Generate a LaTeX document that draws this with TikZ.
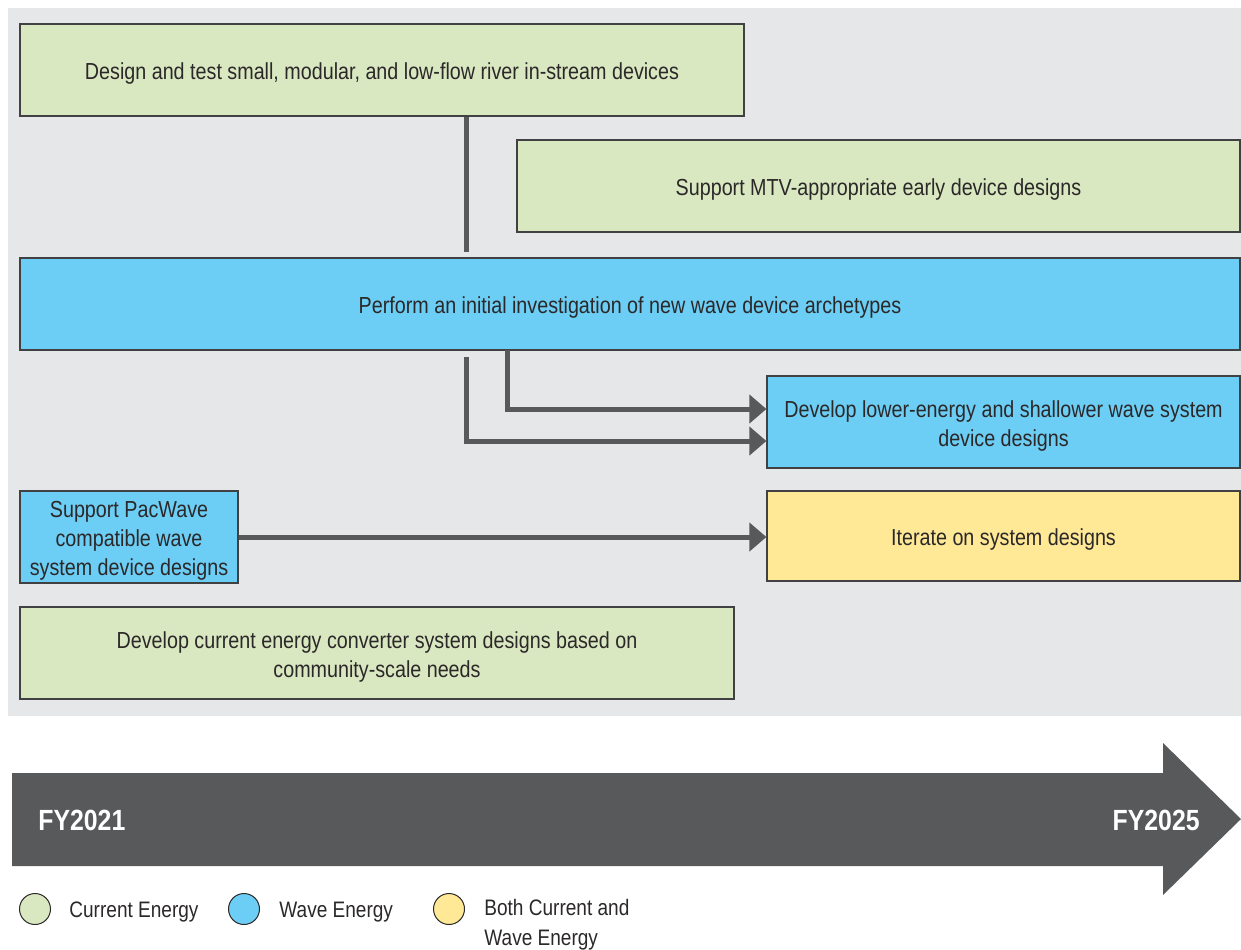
\documentclass[tikz,border=0pt]{standalone}
\usepackage{fontspec}
\setmainfont{Liberation Sans}[FakeStretch=0.85]
\usetikzlibrary{positioning,arrows.meta}

\definecolor{panelgray}{HTML}{E6E7E8}
\definecolor{linkgray}{HTML}{58595B}
\definecolor{boxline}{HTML}{414042}
\definecolor{inkgray}{HTML}{2B2829}
\definecolor{currentgreen}{HTML}{DAE8C1}
\definecolor{waveblue}{HTML}{6DCEF5}
\definecolor{bothyellow}{HTML}{FFE996}

\begin{document}
\begin{tikzpicture}[x=0.5pt,y=-0.5pt,
  textlift/.style={execute at begin node={\rule{0pt}{#1}}},
  box/.style={draw=boxline,line width=0.6pt,text=inkgray,align=center,minimum height=46pt,inner sep=2pt,
    font=\fontsize{11.6}{14.5}\selectfont,textlift=12.3pt},
  current/.style={box,fill=currentgreen},
  wave/.style={box,fill=waveblue},
  both/.style={box,fill=bothyellow},
  link/.style={draw=linkgray,line width=2.5pt},
  flow/.style={link,-{Triangle[length=8.5pt,width=14pt]}},
  key/.style={circle,draw=inkgray,line width=0.5pt,minimum size=15.5pt,inner sep=0pt},
  keytext/.style={anchor=west,align=left,text=inkgray,inner sep=0pt,font=\fontsize{11.2}{15}\selectfont},
  year/.style={text=white,inner sep=0pt,font=\bfseries\fontsize{14.6}{16}\selectfont}]
  \useasboundingbox (0,0) rectangle (1241,949);
  \fill[panelgray] (8,8) rectangle (1241,716);

  \node[current,minimum width=362pt] (design) at (382,70) {Design and test small, modular, and low-flow river in-stream devices};
  \node[current,minimum width=361.5pt] (mtv) at (878.5,186) {Support MTV-appropriate early device designs};
  \node[wave,minimum width=610pt] (perform) at (630,304) {Perform an initial investigation of new wave device archetypes};
  \node[wave,minimum width=236.5pt,textlift=26.8pt] (devlow) at (1003.5,422) {Develop lower-energy and shallower wave system\\device designs};
  \node[wave,minimum width=109pt,inner ysep=0pt,textlift=41.3pt] (pacwave) at (129,537) {Support PacWave\\compatible wave\\system device designs};
  \node[both,minimum width=236.5pt,minimum height=45pt] (iterate) at (1003.5,536) {Iterate on system designs};
  \node[current,minimum width=357pt,textlift=26.8pt] (community) at (377,653) {Develop current energy converter system designs based on\\community-scale needs};

  \coordinate (stem) at (466,252);
  \coordinate (tapA) at (507,350);
  \coordinate (tapB) at (466,357);
  \draw[link] (design.south -| stem) -- (stem);
  \draw[flow] (tapA) |- ([yshift=6.5pt]devlow.west);
  \draw[flow] (tapB) |- ([yshift=-9.5pt]devlow.west);
  \draw[flow] (pacwave.east) -- (pacwave.east -| iterate.west);

  % timeline
  \fill[linkgray] (12,773) -- (1163,773) -- (1163,743) -- (1241,819) -- (1163,895) -- (1163,866) -- (12,866) -- cycle;
  \node[year,anchor=west] (fystart) at (38,820) {FY2021};
  \node[year,anchor=east] (fyend) at (1200,820) {FY2025};

  % legend
  \node[key,fill=currentgreen] (keycur) at (35,909) {};
  \node[keytext] (keycurtext) at (69,912) {Current Energy};
  \node[key,fill=waveblue] (keywave) at (244,909) {};
  \node[keytext] (keywavetext) at (279,912) {Wave Energy};
  \node[key,fill=bothyellow] (keyboth) at (449,909) {};
  \node[keytext] (keybothtext) at (484,925) {Both Current and\\Wave Energy};
\end{tikzpicture}
\end{document}
